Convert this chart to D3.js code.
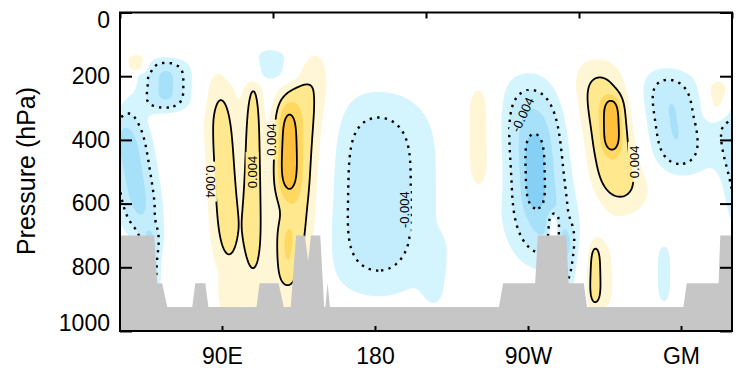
<!DOCTYPE html>
<html><head><meta charset="utf-8">
<script src="https://cdn.jsdelivr.net/npm/d3@7"></script>
<style>
body{margin:0;background:#fff;}
svg{display:block;font-family:"Liberation Sans",Arial,Helvetica,sans-serif;}
</style>
</head><body>
<svg id="chart" width="736" height="368"></svg>
<script>
// ---- anomaly cells (lon in degrees east, 30..390; pressure hPa) ----
const cellLon       = [57, 38, 48, 182, 215, 276, 273.5, 293, 285, 355, 350, 118, 91.5, 95, 108.5, 109, 135.5, 128, 128, 309, 318, 319.5, 316, 242, 381.5, 40];
const cellPres      = [228, 500, 790, 570, 820, 500, 500, 780, 690, 344, 820, 165, 515, 930, 500, 940, 520, 423, 760, 820, 390, 350, 820, 395, 273, 160];
const cellLonWidth  = [15, 13, 6, 33.7, 8, 21, 5.5, 5, 3, 19.6, 7, 18, 11, 9, 5.9, 4, 15.5, 7.5, 5, 4.5, 19.6, 5.5, 12, 11, 8, 6];
const cellPresWidth = [84, 213, 110, 320, 120, 290, 110, 110, 60, 165, 120, 55, 340, 90, 350, 70, 400, 155, 100, 110, 238, 85, 160, 196, 66, 28];
const cellPeak      = [-0.0065, -0.007, -0.0055, -0.0055, -0.002, -0.0075, -0.003, -0.0035, 0.006, -0.0062, -0.0026, -0.0039,
                       0.0052, 0.0024, 0.005, 0.0012, 0.006, 0.0055, 0.0015, 0.004, 0.006, 0.005, 0.0022, 0.0036, 0.0045, 0.0048];
const cellTilt      = [0, 3, 0, 0, 0, 1.5, 0, 0, 0, 2.5, 0, 0, 1.0, 0, 0, 0, -1.6, 0, 0, 0, 3, 0, 0, 0, 0, 0];

// ---- topography (surface pressure along the section) ----
const topoLon  = [30, 50.1, 51.9, 54.8, 57.8, 72.5, 74.3, 80.2, 82, 110.3, 112.1, 123.3, 126.3, 130.4, 133.6, 138.7, 140.7, 142.3, 147.8, 150.1, 150.8, 152.1, 153.5, 252.9, 255.4, 274.2, 275.8, 292.5, 293.9, 302.8, 304.7, 361.4, 363.4, 382.1, 383.1, 390];
const topoPres = [700, 700, 850, 850, 925, 925, 850, 850, 925, 925, 850, 850, 925, 925, 700, 700, 780, 700, 700, 925, 925, 850, 925, 925, 850, 850, 700, 700, 850, 850, 925, 925, 850, 850, 700, 700];

// ---- axes ----
const xTickLon    = [90, 180, 270, 360];
const xTickLabels = ["90E", "180", "90W", "GM"];
const xTopTicks   = [30, 120, 210, 300, 390];
const yTicks      = [0, 200, 400, 600, 800, 1000];

// ---- shading / contour levels ----
const fillLevels = [0.002, 0.004, 0.006, 0.008];
const posColors  = ["#fff6d6", "#ffe88e", "#ffd862", "#ffc03c"];
const negColors  = ["#d5f5fe", "#c3edfc", "#a7e0f9", "#86d0f5"];
const lineLevels = [0.004, 0.008];

// ---- contour labels ----
const labelText  = ["0.004", "0.004", "0.004", "0.004", "-0.004", "-0.004"];
const labelLon   = [83.2, 107.7, 119.2, 332.5, 197.2, 266.9];
const labelPres  = [531, 501, 399, 469, 619, 321];
const labelAngle = [90, -90, -90, -90, -90, -65];

// ================= drawing =================
const svg = d3.select("#chart");
const X0 = 120, X1 = 732, Y0 = 12.5, Y1 = 331;
const x = d3.scaleLinear().domain([30, 390]).range([X0, X1]);
const y = d3.scaleLinear().domain([0, 1000]).range([Y0, Y1]);

// grid (extended past the frame so no contour closes along the frame)
const lonStart = 20, dLon = 0.5, nx = 761;
const pStart = -50, dP = 5, ny = 221;
const vals = new Float64Array(nx * ny);
for (let j = 0; j < ny; j++) {
  const p = pStart + j * dP;
  for (let i = 0; i < nx; i++) {
    const lon = lonStart + i * dLon;
    let v = 0;
    for (let k = 0; k < cellLon.length; k++) {
      const lc = cellLon[k] + cellTilt[k] * (p - cellPres[k]) / 100;
      let dl = ((lon - lc) % 360 + 540) % 360 - 180;
      const a = dl / cellLonWidth[k];
      const b = (p - cellPres[k]) / cellPresWidth[k];
      const e = a * a + b * b * b * b;
      if (e < 40) v += cellPeak[k] * Math.exp(-e);
    }
    vals[j * nx + i] = v;
  }
}
const negVals = vals.map(v => -v);

const proj = d3.geoTransform({
  point(px, py) {
    this.stream.point(x(lonStart + (px - 0.5) * dLon), y(pStart + (py - 0.5) * dP));
  }
});
const path = d3.geoPath(proj);
const gen = d3.contours().size([nx, ny]);

const defs = svg.append("defs");
defs.append("clipPath").attr("id", "plotclip")
  .append("rect").attr("x", X0).attr("y", Y0).attr("width", X1 - X0).attr("height", Y1 - Y0);

// mask to break contour lines under labels
const mask = defs.append("mask").attr("id", "lblmask").attr("maskUnits", "userSpaceOnUse")
  .attr("x", 0).attr("y", 0).attr("width", 736).attr("height", 368);
mask.append("rect").attr("x", 0).attr("y", 0).attr("width", 736).attr("height", 368).attr("fill", "#fff");
labelText.forEach((t, i) => {
  const w = t.length * 7.2 + 4, h = 13;
  mask.append("rect")
    .attr("transform", `translate(${x(labelLon[i])},${y(labelPres[i])}) rotate(${labelAngle[i]})`)
    .attr("x", -w / 2).attr("y", -h / 2).attr("width", w).attr("height", h).attr("fill", "#000");
});

const plot = svg.append("g").attr("clip-path", "url(#plotclip)");

// fills
const fillG = plot.append("g");
fillLevels.forEach((lev, i) => {
  fillG.append("path").attr("d", path(gen.contour(vals, lev))).attr("fill", posColors[i]);
});
fillLevels.forEach((lev, i) => {
  fillG.append("path").attr("d", path(gen.contour(negVals, lev))).attr("fill", negColors[i]);
});

// contour lines
const lineG = plot.append("g").attr("mask", "url(#lblmask)").attr("fill", "none");
lineLevels.forEach(lev => {
  lineG.append("path").attr("d", path(gen.contour(vals, lev)))
    .attr("stroke", "#000").attr("stroke-width", 1.8).attr("stroke-linejoin", "round");
  lineG.append("path").attr("d", path(gen.contour(negVals, lev)))
    .attr("stroke", "#000").attr("stroke-width", 2.4).attr("stroke-dasharray", "2.4 5.2");
});

// labels
plot.append("g").selectAll("text").data(labelText).join("text")
  .attr("transform", (d, i) => `translate(${x(labelLon[i])},${y(labelPres[i])}) rotate(${labelAngle[i]})`)
  .attr("text-anchor", "middle").attr("dominant-baseline", "central")
  .attr("font-size", 13).attr("fill", "#000").text(d => d);

// topography
const topo = topoLon.map((l, i) => [l, topoPres[i]]);
plot.append("path")
  .attr("d", d3.area().x(d => x(d[0])).y0(y(1000) + 2).y1(d => y(d[1]))(topo))
  .attr("fill", "#c6c6c6");

// axes
const axG = svg.append("g");
const left = axG.append("g").attr("transform", `translate(${X0},0)`)
  .call(d3.axisLeft(y).tickValues(yTicks).tickSize(-12).tickPadding(10).tickFormat(d3.format("d")));
left.selectAll("text").attr("font-size", 23).attr("font-family", null)
  .attr("transform", d => d === 0 ? "translate(0,8)" : (d === 1000 ? "translate(0,-8)" : null));
axG.append("g").attr("transform", `translate(${X1},0)`)
  .call(d3.axisRight(y).tickValues(yTicks).tickSize(-12).tickFormat(""));
const bottom = axG.append("g").attr("transform", `translate(0,${Y1})`)
  .call(d3.axisBottom(x).tickValues(xTickLon).tickSize(-5).tickPadding(17)
    .tickFormat((d, i) => xTickLabels[i]));
bottom.selectAll("text").attr("font-size", 23).attr("font-family", null);
axG.append("g").attr("transform", `translate(0,${Y0})`)
  .call(d3.axisTop(x).tickValues(xTopTicks).tickSize(-6).tickFormat(""));
axG.selectAll(".domain").remove();
axG.selectAll(".tick line").attr("stroke", "#000").attr("stroke-width", 2);
axG.selectAll("text").attr("fill", "#000");
svg.append("rect").attr("x", X0).attr("y", Y0).attr("width", X1 - X0).attr("height", Y1 - Y0)
  .attr("fill", "none").attr("stroke", "#000").attr("stroke-width", 2);

svg.append("text").attr("transform", "translate(35,171) rotate(-90)")
  .attr("text-anchor", "middle").attr("font-size", 25).attr("fill", "#000").text("Pressure (hPa)");
</script>
</body></html>
